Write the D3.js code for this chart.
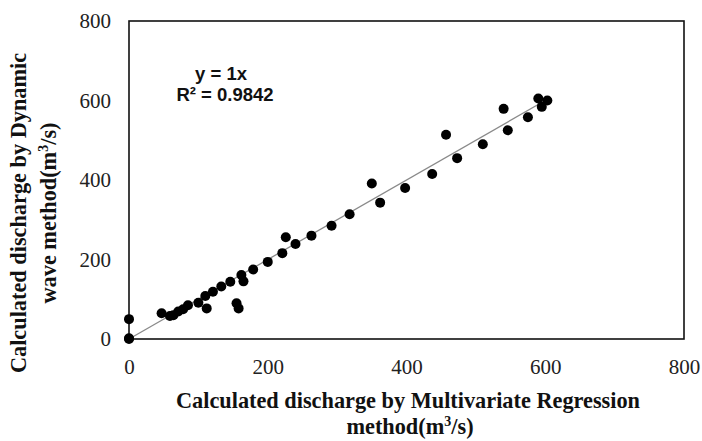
<!DOCTYPE html>
<html>
<head>
<meta charset="utf-8">
<script src="https://cdn.jsdelivr.net/npm/d3@7"></script>
<style>
  body { margin: 0; background: #fff; }
  svg { display: block; }
</style>
</head>
<body>
<div id="chart"></div>
<script>
// discharge by Multivariate Regression (x) vs Dynamic wave (y), m3/s
const regression = [0, 0, 0, 47, 59, 64, 71, 78, 85, 100, 110, 112, 121, 133, 146, 155, 158, 162, 165, 179, 200, 221, 226, 240, 263, 292, 318, 350, 362, 398, 437, 457, 473, 510, 540, 546, 575, 590, 595, 603];
const dynamicWave = [0, 2, 50, 65, 58, 60, 69, 75, 85, 91, 108, 77, 119, 132, 144, 90, 77, 161, 145, 175, 194, 216, 256, 239, 260, 285, 314, 391, 343, 380, 415, 514, 455, 490, 579, 525, 558, 605, 584, 600];
const xTicks = [0, 200, 400, 600, 800];
const yTicks = [0, 200, 400, 600, 800];
const slope = 1;
const equationLines = ['y = 1x', 'R² = 0.9842'];

const width = 702, height = 441;
const margin = { top: 21, right: 18, bottom: 102, left: 129 };
const w = width - margin.left - margin.right;
const h = height - margin.top - margin.bottom;

const svg = d3.select('#chart').append('svg')
    .attr('width', width)
    .attr('height', height);

const x = d3.scaleLinear().domain([0, 800]).range([0, w]);
const y = d3.scaleLinear().domain([0, 800]).range([h, 0]);

const g = svg.append('g')
    .attr('transform', `translate(${margin.left},${margin.top})`);

// --- axes (no tick marks, serif labels)
const gx = g.append('g')
    .attr('transform', `translate(0,${h})`)
    .call(d3.axisBottom(x).tickValues(xTicks).tickSize(0).tickPadding(20).tickFormat(d3.format('d')));
const gy = g.append('g')
    .call(d3.axisLeft(y).tickValues(yTicks).tickSize(0).tickPadding(18).tickFormat(d3.format('d')));

[gx, gy].forEach(a => {
    a.select('.domain').remove();
    a.selectAll('text')
        .attr('font-family', '"Liberation Serif", "Times New Roman", serif')
        .attr('font-size', 21)
        .attr('fill', '#222');
});

// --- plot frame
g.append('rect')
    .attr('width', w)
    .attr('height', h)
    .attr('fill', 'none')
    .attr('stroke', '#111')
    .attr('stroke-width', 1.6);

// --- trend line y = 1x over the data range
const xExt = d3.extent(regression);
g.append('line')
    .attr('x1', x(xExt[0])).attr('y1', y(slope * xExt[0]))
    .attr('x2', x(xExt[1])).attr('y2', y(slope * xExt[1]))
    .attr('stroke', '#8a8a8a')
    .attr('stroke-width', 1.3);

// --- points
g.append('g')
    .attr('fill', '#000')
    .selectAll('circle')
    .data(regression.map((d, i) => ({ x: d, y: dynamicWave[i] })))
    .enter().append('circle')
    .attr('r', 5)
    .attr('cx', d => x(d.x))
    .attr('cy', d => y(d.y));

// --- equation
const eq = svg.append('text')
    .attr('font-family', '"Liberation Sans", Arial, sans-serif')
    .attr('font-weight', 'bold')
    .attr('font-size', 18.5)
    .attr('fill', '#111')
    .attr('text-anchor', 'middle');
eq.append('tspan').attr('x', 221).attr('y', 80).text(equationLines[0]);
eq.append('tspan').attr('x', 225).attr('y', 101).text(equationLines[1]);

// --- axis titles
const titleFont = '"Liberation Serif", "Times New Roman", serif';
const xt = svg.append('text')
    .attr('font-family', titleFont)
    .attr('font-weight', 'bold')
    .attr('font-size', 22.3)
    .attr('fill', '#111')
    .attr('text-anchor', 'middle');
xt.append('tspan').attr('x', 408).attr('y', 408).text('Calculated discharge by Multivariate Regression');
const xt2 = xt.append('tspan').attr('x', 410).attr('y', 434).text('method(m');
xt2.append('tspan').attr('font-size', 14).attr('dy', -8).text('3');
xt2.append('tspan').attr('dy', 8).text('/s)');

const yt = svg.append('text')
    .attr('font-family', titleFont)
    .attr('font-weight', 'bold')
    .attr('font-size', 22.3)
    .attr('fill', '#111')
    .attr('text-anchor', 'middle')
    .attr('transform', 'translate(0,213) rotate(-90)');
yt.append('tspan').attr('x', 0).attr('y', 26).text('Calculated discharge by Dynamic');
const yt2 = yt.append('tspan').attr('x', 0).attr('y', 56).text('wave method(m');
yt2.append('tspan').attr('font-size', 14).attr('dy', -8).text('3');
yt2.append('tspan').attr('dy', 8).text('/s)');
</script>
</body>
</html>
